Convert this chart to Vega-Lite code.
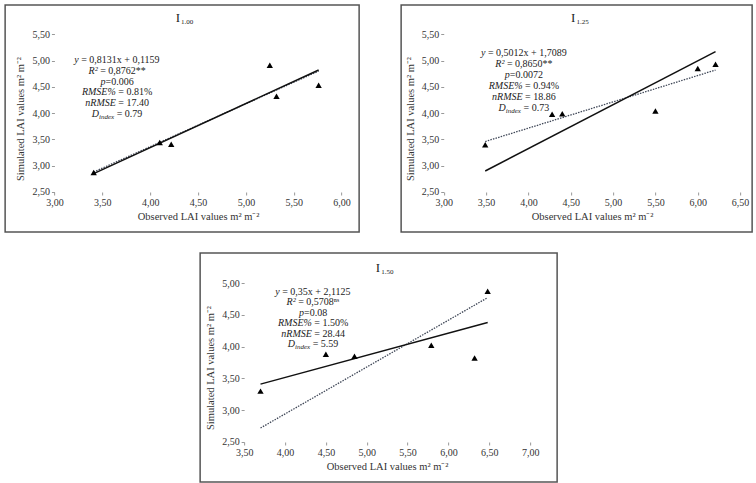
{
  "$schema": "https://vega.github.io/schema/vega-lite/v6.json",
  "background": "white",
  "padding": {"left": 4, "top": 4, "right": 0, "bottom": 0},
  "config": {
    "font": "Liberation Serif",
    "view": {"stroke": "#555555", "strokeWidth": 1.5},
    "axis": {
      "labelFont": "Liberation Serif", "labelFontSize": 10, "labelColor": "#333333",
      "titleFont": "Liberation Serif", "titleFontSize": 10.5, "titleFontWeight": "normal", "titleColor": "#333333",
      "domain": false, "grid": false, "tickColor": "#999999", "tickSize": 3, "labelPadding": 2,
      "labelOverlap": false, "labelFlush": false, "tickCount": 20,
      "labelExpr": "replace(format(datum.value, '.2f'), '.', ',')"
    },
    "text": {"font": "Liberation Serif", "color": "#222222", "fontSize": 10, "baseline": "middle"}
  },
  "datasets": {
    "points": [
      {"panel": "I1.00", "obs": 3.41, "sim": 2.87}, {"panel": "I1.00", "obs": 4.10, "sim": 3.44},
      {"panel": "I1.00", "obs": 4.22, "sim": 3.41}, {"panel": "I1.00", "obs": 5.25, "sim": 4.91},
      {"panel": "I1.00", "obs": 5.32, "sim": 4.32}, {"panel": "I1.00", "obs": 5.76, "sim": 4.53},
      {"panel": "I1.25", "obs": 3.49, "sim": 3.40}, {"panel": "I1.25", "obs": 4.28, "sim": 3.98},
      {"panel": "I1.25", "obs": 4.40, "sim": 3.99}, {"panel": "I1.25", "obs": 5.50, "sim": 4.04},
      {"panel": "I1.25", "obs": 6.00, "sim": 4.85}, {"panel": "I1.25", "obs": 6.21, "sim": 4.93},
      {"panel": "I1.50", "obs": 3.70, "sim": 3.30}, {"panel": "I1.50", "obs": 4.50, "sim": 3.88},
      {"panel": "I1.50", "obs": 4.85, "sim": 3.85}, {"panel": "I1.50", "obs": 5.79, "sim": 4.02},
      {"panel": "I1.50", "obs": 6.32, "sim": 3.82}, {"panel": "I1.50", "obs": 6.48, "sim": 4.87}
    ],
    "fits": [
      {"panel": "I1.00", "series": "linear", "obs": 3.41, "sim": 2.85}, {"panel": "I1.00", "series": "linear", "obs": 5.76, "sim": 4.82},
      {"panel": "I1.00", "series": "trend", "obs": 3.41, "sim": 2.88}, {"panel": "I1.00", "series": "trend", "obs": 5.76, "sim": 4.80},
      {"panel": "I1.25", "series": "linear", "obs": 3.49, "sim": 2.90}, {"panel": "I1.25", "series": "linear", "obs": 6.21, "sim": 5.17},
      {"panel": "I1.25", "series": "trend", "obs": 3.49, "sim": 3.46}, {"panel": "I1.25", "series": "trend", "obs": 6.21, "sim": 4.82},
      {"panel": "I1.50", "series": "linear", "obs": 3.70, "sim": 3.41}, {"panel": "I1.50", "series": "linear", "obs": 6.48, "sim": 4.38},
      {"panel": "I1.50", "series": "trend", "obs": 3.70, "sim": 2.72}, {"panel": "I1.50", "series": "trend", "obs": 6.48, "sim": 4.77}
    ],
    "titles": [
      {"panel": "I1.00", "main": "I", "sub": "1.00"},
      {"panel": "I1.25", "main": "I", "sub": "1.25"},
      {"panel": "I1.50", "main": "I", "sub": "1.50"}
    ],
    "stats": [
      {"panel": "I1.00", "line": 1, "it": "y", "rg": "= 0,8131x + 0,1159"},
      {"panel": "I1.00", "line": 2, "it": "R²", "rg": "= 0,8762**"},
      {"panel": "I1.00", "line": 3, "it": "p", "rg": "=0.006"},
      {"panel": "I1.00", "line": 4, "it": "RMSE%", "rg": "= 0.81%"},
      {"panel": "I1.00", "line": 5, "it": "nRMSE", "rg": "= 17.40"},
      {"panel": "I1.00", "line": 6, "it": "D", "sub": "index", "rg": "= 0.79"},
      {"panel": "I1.25", "line": 1, "it": "y", "rg": "= 0,5012x + 1,7089"},
      {"panel": "I1.25", "line": 2, "it": "R²", "rg": "= 0,8650**"},
      {"panel": "I1.25", "line": 3, "it": "p", "rg": "=0.0072"},
      {"panel": "I1.25", "line": 4, "it": "RMSE%", "rg": "= 0.94%"},
      {"panel": "I1.25", "line": 5, "it": "nRMSE", "rg": "= 18.86"},
      {"panel": "I1.25", "line": 6, "it": "D", "sub": "index", "rg": "= 0.73"},
      {"panel": "I1.50", "line": 1, "it": "y", "rg": "= 0,35x + 2,1125"},
      {"panel": "I1.50", "line": 2, "it": "R²", "rg": "= 0,5708ⁿˢ"},
      {"panel": "I1.50", "line": 3, "it": "p", "rg": "=0.08"},
      {"panel": "I1.50", "line": 4, "it": "RMSE%", "rg": "= 1.50%"},
      {"panel": "I1.50", "line": 5, "it": "nRMSE", "rg": "= 28.44"},
      {"panel": "I1.50", "line": 6, "it": "D", "sub": "index", "rg": "= 5.59"}
    ]
  },
  "spacing": 19,
  "center": true,
  "vconcat": [
    {
      "spacing": 40,
      "hconcat": [
        {
          "width": 354, "height": 227,
          "resolve": {"scale": {"y": "independent"}, "axis": {"y": "independent"}},
          "layer": [
            {
              "layer": [
                {
                  "mark": {"type": "rule", "color": "#9a9a9a", "strokeWidth": 1},
                  "encoding": {
                    "x": {"datum": 3, "type": "quantitative",
                      "scale": {"domain": [2.485, 6.183], "nice": false, "zero": false},
                      "axis": {"values": [3, 3.5, 4, 4.5, 5, 5.5, 6], "offset": -40, "title": "Observed LAI values m² m⁻²", "titleX": 193, "titlePadding": 4}},
                    "x2": {"datum": 6},
                    "y": {"datum": 2.5, "type": "quantitative",
                      "scale": {"domain": [1.739, 6.057], "nice": false, "zero": false},
                      "axis": {"values": [2.5, 3, 3.5, 4, 4.5, 5, 5.5], "offset": -49.3, "title": "Simulated LAI values m² m⁻²", "titlePadding": 6}}
                  }
                },
                {
                  "mark": {"type": "rule", "color": "#9a9a9a", "strokeWidth": 1},
                  "encoding": {"x": {"datum": 3, "type": "quantitative"}, "y": {"datum": 2.5, "type": "quantitative"}, "y2": {"datum": 5.5}}
                },
                {
                  "data": {"name": "fits"},
                  "transform": [{"filter": "datum.panel === 'I1.00' && datum.series === 'trend'"}],
                  "mark": {"type": "line", "color": "#404858", "strokeWidth": 1.3, "strokeDash": [1.5, 1.2]},
                  "encoding": {"x": {"field": "obs", "type": "quantitative"}, "y": {"field": "sim", "type": "quantitative"}}
                },
                {
                  "data": {"name": "fits"},
                  "transform": [{"filter": "datum.panel === 'I1.00' && datum.series === 'linear'"}],
                  "mark": {"type": "line", "color": "#111111", "strokeWidth": 1.5},
                  "encoding": {"x": {"field": "obs", "type": "quantitative"}, "y": {"field": "sim", "type": "quantitative"}}
                },
                {
                  "data": {"name": "points"},
                  "transform": [{"filter": "datum.panel === 'I1.00'"}],
                  "mark": {"type": "point", "shape": "triangle-up", "filled": true, "color": "#000000", "opacity": 1, "size": 40},
                  "encoding": {"x": {"field": "obs", "type": "quantitative"}, "y": {"field": "sim", "type": "quantitative"}}
                },
                {
                  "data": {"name": "titles"},
                  "transform": [{"filter": "datum.panel === 'I1.00'"}],
                  "mark": {"type": "text", "fontSize": 13, "align": "right", "baseline": "alphabetic", "dx": 2},
                  "encoding": {"x": {"datum": 4.292, "type": "quantitative"}, "y": {"datum": 5.734, "type": "quantitative"}, "text": {"field": "main"}}
                },
                {
                  "data": {"name": "titles"},
                  "transform": [{"filter": "datum.panel === 'I1.00'"}],
                  "mark": {"type": "text", "fontSize": 7, "align": "left", "baseline": "alphabetic", "dx": 3, "dy": 2},
                  "encoding": {"x": {"datum": 4.292, "type": "quantitative"}, "y": {"datum": 5.734, "type": "quantitative"}, "text": {"field": "sub"}}
                }
              ]
            },
            {
              "data": {"name": "stats"},
              "transform": [{"filter": "datum.panel === 'I1.00'"}],
              "encoding": {
                "x": {"datum": 3.655, "type": "quantitative"},
                "y": {"field": "line", "type": "ordinal", "scale": {"type": "point", "range": [55, 109], "padding": 0}, "axis": null}
              },
              "layer": [
                {"transform": [{"filter": "datum.line === 1"}], "mark": {"type": "text", "fontStyle": "italic", "align": "right", "dx": -38.5}, "encoding": {"text": {"field": "it"}}},
                {"transform": [{"filter": "datum.line === 1"}], "mark": {"type": "text", "align": "left", "dx": -36}, "encoding": {"text": {"field": "rg"}}},
                {"transform": [{"filter": "datum.line === 2"}], "mark": {"type": "text", "fontStyle": "italic", "align": "right", "dx": -19.5}, "encoding": {"text": {"field": "it"}}},
                {"transform": [{"filter": "datum.line === 2"}], "mark": {"type": "text", "align": "left", "dx": -17}, "encoding": {"text": {"field": "rg"}}},
                {"transform": [{"filter": "datum.line === 3"}], "mark": {"type": "text", "fontStyle": "italic", "align": "right", "dx": -11.6}, "encoding": {"text": {"field": "it"}}},
                {"transform": [{"filter": "datum.line === 3"}], "mark": {"type": "text", "align": "left", "dx": -11.6}, "encoding": {"text": {"field": "rg"}}},
                {"transform": [{"filter": "datum.line === 4 || datum.line === 5"}], "mark": {"type": "text", "fontStyle": "italic", "align": "right", "dx": -1.3}, "encoding": {"text": {"field": "it"}}},
                {"transform": [{"filter": "datum.line === 4 || datum.line === 5"}], "mark": {"type": "text", "align": "left", "dx": 1.2}, "encoding": {"text": {"field": "rg"}}},
                {"transform": [{"filter": "datum.line === 6"}], "mark": {"type": "text", "fontStyle": "italic", "align": "right", "dx": -18.1}, "encoding": {"text": {"field": "it"}}},
                {"transform": [{"filter": "datum.line === 6"}], "mark": {"type": "text", "fontSize": 7, "fontStyle": "italic", "align": "left", "dx": -18.1, "dy": 3}, "encoding": {"text": {"field": "sub"}}},
                {"transform": [{"filter": "datum.line === 6"}], "mark": {"type": "text", "align": "left", "dx": -0.4}, "encoding": {"text": {"field": "rg"}}}
              ]
            }
          ]
        },
        {
          "width": 351, "height": 227,
          "resolve": {"scale": {"y": "independent"}, "axis": {"y": "independent"}},
          "layer": [
            {
              "layer": [
                {
                  "mark": {"type": "rule", "color": "#9a9a9a", "strokeWidth": 1},
                  "encoding": {
                    "x": {"datum": 3, "type": "quantitative",
                      "scale": {"domain": [2.497, 6.642], "nice": false, "zero": false},
                      "axis": {"values": [3, 3.5, 4, 4.5, 5, 5.5, 6, 6.5], "offset": -40, "title": "Observed LAI values m² m⁻²", "titleX": 191, "titlePadding": 4}},
                    "x2": {"datum": 6.5},
                    "y": {"datum": 2.5, "type": "quantitative",
                      "scale": {"domain": [1.739, 6.057], "nice": false, "zero": false},
                      "axis": {"values": [2.5, 3, 3.5, 4, 4.5, 5, 5.5], "offset": -42.6, "title": "Simulated LAI values m² m⁻²", "titlePadding": 6}}
                  }
                },
                {
                  "mark": {"type": "rule", "color": "#9a9a9a", "strokeWidth": 1},
                  "encoding": {"x": {"datum": 3, "type": "quantitative"}, "y": {"datum": 2.5, "type": "quantitative"}, "y2": {"datum": 5.5}}
                },
                {
                  "data": {"name": "fits"},
                  "transform": [{"filter": "datum.panel === 'I1.25' && datum.series === 'trend'"}],
                  "mark": {"type": "line", "color": "#404858", "strokeWidth": 1.3, "strokeDash": [1.5, 1.2]},
                  "encoding": {"x": {"field": "obs", "type": "quantitative"}, "y": {"field": "sim", "type": "quantitative"}}
                },
                {
                  "data": {"name": "fits"},
                  "transform": [{"filter": "datum.panel === 'I1.25' && datum.series === 'linear'"}],
                  "mark": {"type": "line", "color": "#111111", "strokeWidth": 1.5},
                  "encoding": {"x": {"field": "obs", "type": "quantitative"}, "y": {"field": "sim", "type": "quantitative"}}
                },
                {
                  "data": {"name": "points"},
                  "transform": [{"filter": "datum.panel === 'I1.25'"}],
                  "mark": {"type": "point", "shape": "triangle-up", "filled": true, "color": "#000000", "opacity": 1, "size": 40},
                  "encoding": {"x": {"field": "obs", "type": "quantitative"}, "y": {"field": "sim", "type": "quantitative"}}
                },
                {
                  "data": {"name": "titles"},
                  "transform": [{"filter": "datum.panel === 'I1.25'"}],
                  "mark": {"type": "text", "fontSize": 13, "align": "right", "baseline": "alphabetic"},
                  "encoding": {"x": {"datum": 4.555, "type": "quantitative"}, "y": {"datum": 5.734, "type": "quantitative"}, "text": {"field": "main"}}
                },
                {
                  "data": {"name": "titles"},
                  "transform": [{"filter": "datum.panel === 'I1.25'"}],
                  "mark": {"type": "text", "fontSize": 7, "align": "left", "baseline": "alphabetic", "dx": 1, "dy": 2},
                  "encoding": {"x": {"datum": 4.555, "type": "quantitative"}, "y": {"datum": 5.734, "type": "quantitative"}, "text": {"field": "sub"}}
                }
              ]
            },
            {
              "data": {"name": "stats"},
              "transform": [{"filter": "datum.panel === 'I1.25'"}],
              "encoding": {
                "x": {"datum": 3.947, "type": "quantitative"},
                "y": {"field": "line", "type": "ordinal", "scale": {"type": "point", "range": [48, 103], "padding": 0}, "axis": null}
              },
              "layer": [
                {"transform": [{"filter": "datum.line === 1"}], "mark": {"type": "text", "fontStyle": "italic", "align": "right", "dx": -38.5}, "encoding": {"text": {"field": "it"}}},
                {"transform": [{"filter": "datum.line === 1"}], "mark": {"type": "text", "align": "left", "dx": -36}, "encoding": {"text": {"field": "rg"}}},
                {"transform": [{"filter": "datum.line === 2"}], "mark": {"type": "text", "fontStyle": "italic", "align": "right", "dx": -19.5}, "encoding": {"text": {"field": "it"}}},
                {"transform": [{"filter": "datum.line === 2"}], "mark": {"type": "text", "align": "left", "dx": -17}, "encoding": {"text": {"field": "rg"}}},
                {"transform": [{"filter": "datum.line === 3"}], "mark": {"type": "text", "fontStyle": "italic", "align": "right", "dx": -14.1}, "encoding": {"text": {"field": "it"}}},
                {"transform": [{"filter": "datum.line === 3"}], "mark": {"type": "text", "align": "left", "dx": -14.1}, "encoding": {"text": {"field": "rg"}}},
                {"transform": [{"filter": "datum.line === 4 || datum.line === 5"}], "mark": {"type": "text", "fontStyle": "italic", "align": "right", "dx": -1.3}, "encoding": {"text": {"field": "it"}}},
                {"transform": [{"filter": "datum.line === 4 || datum.line === 5"}], "mark": {"type": "text", "align": "left", "dx": 1.2}, "encoding": {"text": {"field": "rg"}}},
                {"transform": [{"filter": "datum.line === 6"}], "mark": {"type": "text", "fontStyle": "italic", "align": "right", "dx": -18.1}, "encoding": {"text": {"field": "it"}}},
                {"transform": [{"filter": "datum.line === 6"}], "mark": {"type": "text", "fontSize": 7, "fontStyle": "italic", "align": "left", "dx": -18.1, "dy": 3}, "encoding": {"text": {"field": "sub"}}},
                {"transform": [{"filter": "datum.line === 6"}], "mark": {"type": "text", "align": "left", "dx": -0.4}, "encoding": {"text": {"field": "rg"}}}
              ]
            }
          ]
        }
      ]
    },
    {
      "width": 357, "height": 229,
      "resolve": {"scale": {"y": "independent"}, "axis": {"y": "independent"}},
      "layer": [
        {
          "layer": [
            {
              "mark": {"type": "rule", "color": "#9a9a9a", "strokeWidth": 1},
              "encoding": {
                "x": {"datum": 3.5, "type": "quantitative",
                  "scale": {"domain": [2.961, 7.33], "nice": false, "zero": false},
                  "axis": {"values": [3.5, 4, 4.5, 5, 5.5, 6, 6.5, 7], "offset": -40, "title": "Observed LAI values m² m⁻²", "titleX": 187, "titlePadding": 4}},
                "x2": {"datum": 7},
                "y": {"datum": 2.5, "type": "quantitative",
                  "scale": {"domain": [1.871, 5.472], "nice": false, "zero": false},
                  "axis": {"values": [2.5, 3, 3.5, 4, 4.5, 5], "offset": -44, "title": "Simulated LAI values m² m⁻²", "titlePadding": 6}}
              }
            },
            {
              "mark": {"type": "rule", "color": "#9a9a9a", "strokeWidth": 1},
              "encoding": {"x": {"datum": 3.5, "type": "quantitative"}, "y": {"datum": 2.5, "type": "quantitative"}, "y2": {"datum": 5}}
            },
            {
              "data": {"name": "fits"},
              "transform": [{"filter": "datum.panel === 'I1.50' && datum.series === 'trend'"}],
              "mark": {"type": "line", "color": "#404858", "strokeWidth": 1.3, "strokeDash": [1.5, 1.2]},
              "encoding": {"x": {"field": "obs", "type": "quantitative"}, "y": {"field": "sim", "type": "quantitative"}}
            },
            {
              "data": {"name": "fits"},
              "transform": [{"filter": "datum.panel === 'I1.50' && datum.series === 'linear'"}],
              "mark": {"type": "line", "color": "#111111", "strokeWidth": 1.5},
              "encoding": {"x": {"field": "obs", "type": "quantitative"}, "y": {"field": "sim", "type": "quantitative"}}
            },
            {
              "data": {"name": "points"},
              "transform": [{"filter": "datum.panel === 'I1.50'"}],
              "mark": {"type": "point", "shape": "triangle-up", "filled": true, "color": "#000000", "opacity": 1, "size": 40},
              "encoding": {"x": {"field": "obs", "type": "quantitative"}, "y": {"field": "sim", "type": "quantitative"}}
            },
            {
              "data": {"name": "titles"},
              "transform": [{"filter": "datum.panel === 'I1.50'"}],
              "mark": {"type": "text", "fontSize": 13, "align": "right", "baseline": "alphabetic"},
              "encoding": {"x": {"datum": 5.164, "type": "quantitative"}, "y": {"datum": 5.173, "type": "quantitative"}, "text": {"field": "main"}}
            },
            {
              "data": {"name": "titles"},
              "transform": [{"filter": "datum.panel === 'I1.50'"}],
              "mark": {"type": "text", "fontSize": 7, "align": "left", "baseline": "alphabetic", "dx": 1, "dy": 2},
              "encoding": {"x": {"datum": 5.164, "type": "quantitative"}, "y": {"datum": 5.173, "type": "quantitative"}, "text": {"field": "sub"}}
            }
          ]
        },
        {
          "data": {"name": "stats"},
          "transform": [{"filter": "datum.panel === 'I1.50'"}],
          "encoding": {
            "x": {"datum": 4.344, "type": "quantitative"},
            "y": {"field": "line", "type": "ordinal", "scale": {"type": "point", "range": [39, 91], "padding": 0}, "axis": null}
          },
          "layer": [
            {"transform": [{"filter": "datum.line === 1"}], "mark": {"type": "text", "fontStyle": "italic", "align": "right", "dx": -33.5}, "encoding": {"text": {"field": "it"}}},
            {"transform": [{"filter": "datum.line === 1"}], "mark": {"type": "text", "align": "left", "dx": -31}, "encoding": {"text": {"field": "rg"}}},
            {"transform": [{"filter": "datum.line === 2"}], "mark": {"type": "text", "fontStyle": "italic", "align": "right", "dx": -17.5}, "encoding": {"text": {"field": "it"}}},
            {"transform": [{"filter": "datum.line === 2"}], "mark": {"type": "text", "align": "left", "dx": -15}, "encoding": {"text": {"field": "rg"}}},
            {"transform": [{"filter": "datum.line === 3"}], "mark": {"type": "text", "fontStyle": "italic", "align": "right", "dx": -9.1}, "encoding": {"text": {"field": "it"}}},
            {"transform": [{"filter": "datum.line === 3"}], "mark": {"type": "text", "align": "left", "dx": -9.1}, "encoding": {"text": {"field": "rg"}}},
            {"transform": [{"filter": "datum.line === 4 || datum.line === 5"}], "mark": {"type": "text", "fontStyle": "italic", "align": "right", "dx": -1.3}, "encoding": {"text": {"field": "it"}}},
            {"transform": [{"filter": "datum.line === 4 || datum.line === 5"}], "mark": {"type": "text", "align": "left", "dx": 1.2}, "encoding": {"text": {"field": "rg"}}},
            {"transform": [{"filter": "datum.line === 6"}], "mark": {"type": "text", "fontStyle": "italic", "align": "right", "dx": -18.1}, "encoding": {"text": {"field": "it"}}},
            {"transform": [{"filter": "datum.line === 6"}], "mark": {"type": "text", "fontSize": 7, "fontStyle": "italic", "align": "left", "dx": -18.1, "dy": 3}, "encoding": {"text": {"field": "sub"}}},
            {"transform": [{"filter": "datum.line === 6"}], "mark": {"type": "text", "align": "left", "dx": -0.4}, "encoding": {"text": {"field": "rg"}}}
          ]
        }
      ]
    }
  ]
}
